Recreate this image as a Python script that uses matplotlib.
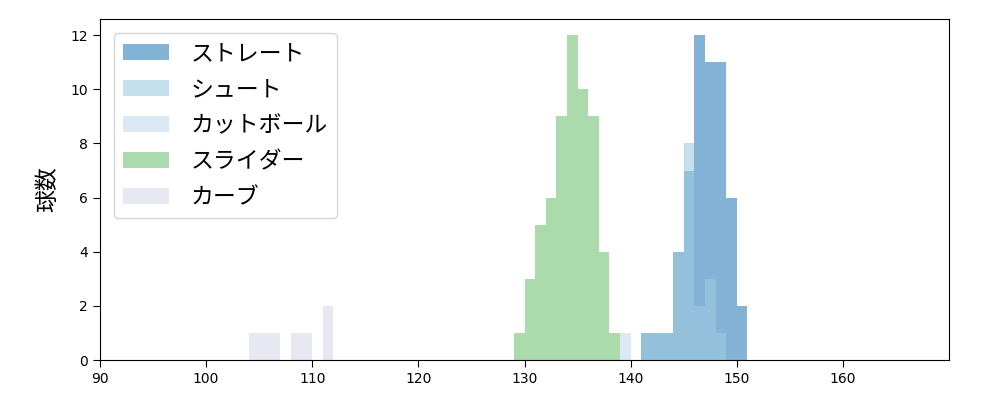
import matplotlib
matplotlib.use("Agg")
import matplotlib.pyplot as plt

plt.rcParams['font.family'] = ['Noto Sans CJK JP', 'DejaVu Sans']

# pitch types and histogram data (1 km/h bins: left edges and counts)
labels = ["ストレート", "シュート", "カットボール", "スライダー", "カーブ"]
colors = ["#3182bd", "#9ecae1", "#c6dbef", "#74c476", "#dadaeb"]

straight_left = [141, 142, 143, 144, 145, 146, 147, 148, 149, 150]
straight_cnt = [1, 1, 1, 4, 7, 12, 11, 11, 6, 2]

shoot_left = [141, 142, 143, 144, 145, 146, 147, 148]
shoot_cnt = [1, 1, 1, 4, 8, 2, 3, 1]

cutter_left = [139]
cutter_cnt = [1]

slider_left = [129, 130, 131, 132, 133, 134, 135, 136, 137, 138]
slider_cnt = [1, 3, 5, 6, 9, 12, 10, 9, 4, 1]

curve_left = [104, 105, 106, 108, 109, 111]
curve_cnt = [1, 1, 1, 1, 1, 2]

xticks = [90, 100, 110, 120, 130, 140, 150, 160]
yticks = [0, 2, 4, 6, 8, 10, 12]

series = [
    (straight_left, straight_cnt),
    (shoot_left, shoot_cnt),
    (cutter_left, cutter_cnt),
    (slider_left, slider_cnt),
    (curve_left, curve_cnt),
]

fig = plt.figure(figsize=(10, 4), dpi=100)
ax = fig.add_axes([0.1, 0.1, 0.849, 0.8525])

for (left, cnt), lab, col in zip(series, labels, colors):
    edges = list(range(min(left), max(left) + 2))
    ax.hist(left, bins=edges, weights=cnt, color=col, alpha=0.6, label=lab)

ax.set_xlim(90, 170)
ax.set_ylim(0, 12.6)
ax.set_xticks(xticks)
ax.set_yticks(yticks)
ax.tick_params(labelsize=10, length=5)
for t in ax.get_xticklabels() + ax.get_yticklabels():
    t.set_fontfamily('DejaVu Sans')
ax.set_ylabel("球数", fontsize=16.5, labelpad=8)
ax.legend(loc="upper left", fontsize=16.5, labelspacing=0.57,
          borderaxespad=0.6, handletextpad=0.95)

fig.savefig("out.png", dpi=100)
